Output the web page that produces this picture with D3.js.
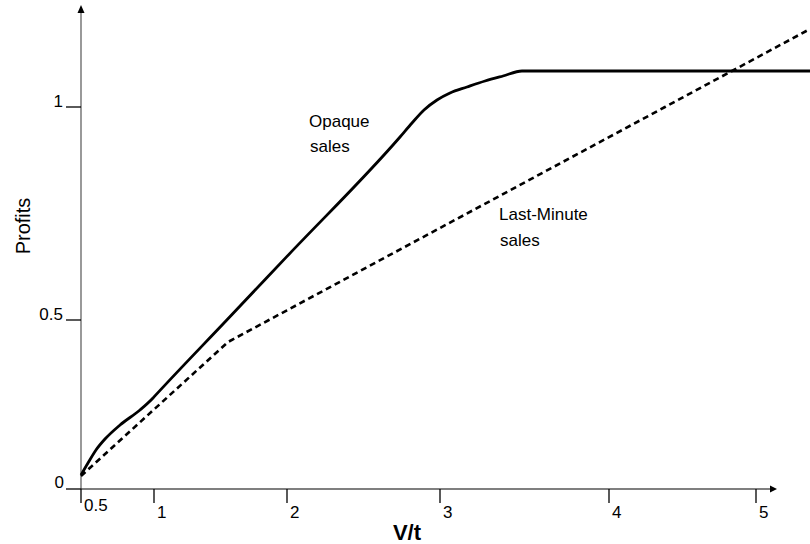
<!DOCTYPE html>
<html>
<head>
<meta charset="utf-8">
<script src="https://cdn.jsdelivr.net/npm/d3@7"></script>
<style>
  html, body { margin: 0; padding: 0; background: #fff; }
  svg { display: block; font-family: "Liberation Sans", Arial, sans-serif; }
</style>
</head>
<body>
<svg id="chart" width="810" height="544"></svg>
<script>
// ---- data ----
const xTicks = [0.5, 1, 2, 3, 4, 5];
const xTickLabels = ["0.5", "1", "2", "3", "4", "5"];
const yTicks = [0, 0.5, 1];
const yTickLabels = ["0", "0.5", "1"];

// Opaque sales (solid)
const opaqueX = [0.5, 0.5479, 0.6027, 0.6644, 0.7671, 0.9041, 0.9932, 1.0, 1.5475, 2.0, 2.7386, 2.8170, 2.8954, 2.9804, 3.0592, 3.1598, 3.2663, 3.3728, 3.4852, 5.3673];
const opaqueY = [0.0414, 0.0769, 0.1154, 0.1479, 0.1893, 0.2337, 0.2692, 0.2724, 0.5, 0.6493, 0.9296, 0.9624, 0.9930, 1.0164, 1.0329, 1.0469, 1.0610, 1.0728, 1.0845, 1.0845];

// Last-Minute sales (dashed)
const lastX = [0.5, 1.0, 1.5564, 1.8640, 2.0, 3.0, 4.0, 4.3807, 5.0, 5.3673];
const lastY = [0.0385, 0.2353, 0.4349, 0.5, 0.5228, 0.7160, 0.9293, 1.0, 1.1149, 1.1831];

// ---- layout ----
const svg = d3.select("#chart");
const x = d3.scaleLinear().domain(xTicks).range([81, 154, 287, 440, 609, 756]);
const y = d3.scaleLinear().domain(yTicks).range([489, 320, 107]);
const ax0 = x(0.5), ay0 = y(0);

// y-axis line (grey) with arrow
svg.append("line").attr("x1", ax0).attr("x2", ax0).attr("y1", ay0).attr("y2", 12)
  .attr("stroke", "#808080").attr("stroke-width", 1.6);
svg.append("path").attr("d", `M${ax0},5 L${ax0-3.5},13 L${ax0+3.5},13 Z`).attr("fill", "#000");

// x-axis line with arrow
svg.append("line").attr("x1", ax0).attr("x2", 772).attr("y1", ay0).attr("y2", ay0)
  .attr("stroke", "#000").attr("stroke-width", 1.2);
svg.append("path").attr("d", `M777,${ay0} L770,${ay0-3.5} L770,${ay0+3.5} Z`).attr("fill", "#000");

// x ticks
const xg = svg.append("g");
xTicks.forEach((t, i) => {
  xg.append("line").attr("x1", x(t)).attr("x2", x(t)).attr("y1", ay0).attr("y2", ay0 + 14)
    .attr("stroke", "#000").attr("stroke-width", 1.3);
  xg.append("text").attr("x", x(t) + 3).attr("y", i === 0 ? 511 : 518)
    .attr("font-size", 17).attr("fill", "#000").text(xTickLabels[i]);
});

// y ticks
const yg = svg.append("g");
yTicks.forEach((t, i) => {
  yg.append("line").attr("x1", ax0 - 15).attr("x2", ax0).attr("y1", y(t)).attr("y2", y(t))
    .attr("stroke", "#000").attr("stroke-width", 1.3);
  yg.append("text").attr("x", i === 0 ? 64 : 63).attr("y", y(t) - (i === 0 ? 1 : 0))
    .attr("text-anchor", "end").attr("font-size", 17).attr("fill", "#000").text(yTickLabels[i]);
});

// axis titles
svg.append("text").attr("x", 407).attr("y", 540).attr("text-anchor", "middle")
  .attr("font-size", 22).attr("font-weight", "bold").text("V/t");
svg.append("text").attr("transform", "translate(30,226) rotate(-90)")
  .attr("text-anchor", "middle").attr("font-size", 20).text("Profits");

// lines
const opaque = opaqueX.map((v, i) => [v, opaqueY[i]]);
const last = lastX.map((v, i) => [v, lastY[i]]);

svg.append("path").datum(opaque)
  .attr("d", d3.line().x(d => x(d[0])).y(d => y(d[1])).curve(d3.curveMonotoneX))
  .attr("fill", "none").attr("stroke", "#000").attr("stroke-width", 2.8);

svg.append("path").datum(last)
  .attr("d", d3.line().x(d => x(d[0])).y(d => y(d[1])))
  .attr("fill", "none").attr("stroke", "#000").attr("stroke-width", 2.6)
  .attr("stroke-dasharray", "6,4");

// annotations
const ann = svg.append("g").attr("font-size", 17).attr("fill", "#000");
ann.append("text").attr("x", 309).attr("y", 127).text("Opaque");
ann.append("text").attr("x", 310).attr("y", 152).text("sales");
ann.append("text").attr("x", 499).attr("y", 220).text("Last-Minute");
ann.append("text").attr("x", 500).attr("y", 246).text("sales");
</script>
</body>
</html>
